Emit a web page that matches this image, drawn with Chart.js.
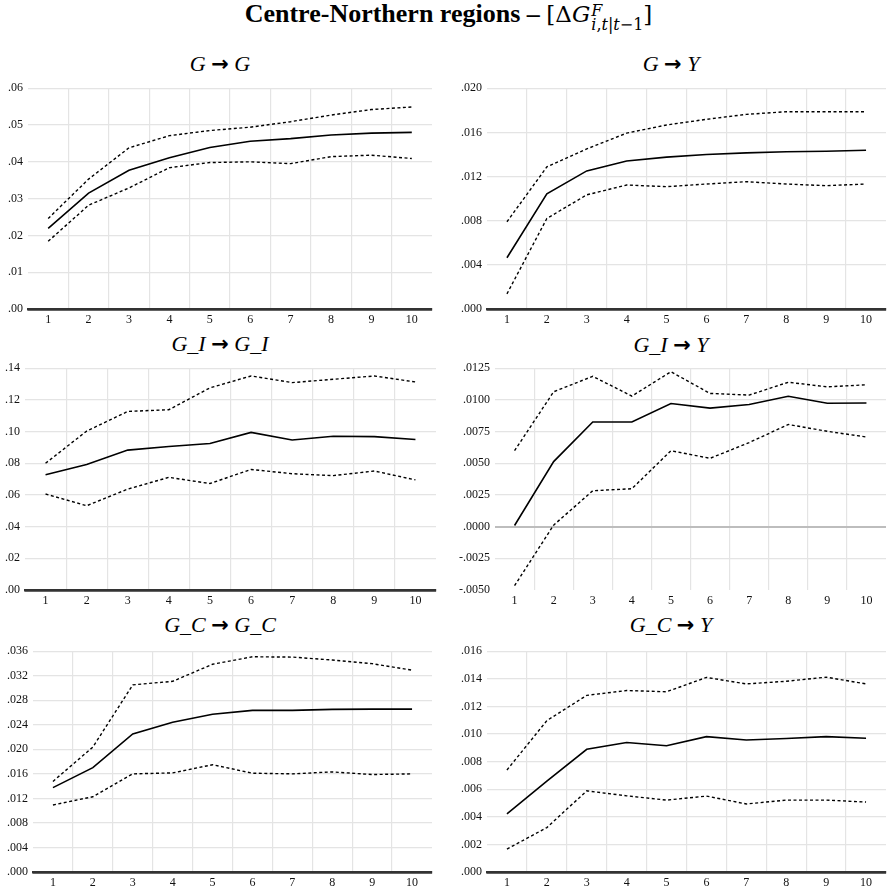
<!DOCTYPE html>
<html>
<head>
<meta charset="utf-8">
<title>Centre-Northern regions</title>
<script src="https://cdn.jsdelivr.net/npm/chart.js@4.4.1/dist/chart.umd.min.js"></script>
<style>
  body { margin: 0; background: #fff; }
  #page { position: relative; width: 887px; height: 890px; overflow: hidden; font-family: "Liberation Serif", "Times New Roman", serif; }
  #mainTitle { position: absolute; left: 0; top: 1px; width: 897px; text-align: center; font-size: 26px; line-height: 26px; white-space: nowrap; }
  #mainTitle b { font-weight: bold; }
  .math { font-family: "DejaVu Serif", serif; font-size: 23px; }
  .subsup { display: inline-block; vertical-align: -8px; font-size: 16px; line-height: 14px; text-align: left; margin-left: 1px; }
  .ptitle { position: absolute; width: 300px; text-align: center; font-size: 22px; line-height: 22px; white-space: nowrap; }
  .ptitle i { font-style: italic; }
  .ptitle .arr { font-family: "DejaVu Sans", sans-serif; font-weight: bold; font-size: 21px; }
  .box { position: absolute; }
</style>
</head>
<body>
<div id="page">
  <div id="mainTitle"><b>Centre-Northern regions – </b><span class="math">[Δ<i>G</i><span class="subsup"><i>F</i><br><i>i</i>,<i>t</i>|<i>t</i>−1</span>]</span></div>

  <div class="ptitle" style="left:70px; top:53px;"><i>G</i> <span class="arr">→</span> <i>G</i></div>
  <div class="ptitle" style="left:521px; top:53px;"><i>G</i> <span class="arr">→</span> <i>Y</i></div>
  <div class="ptitle" style="left:70px; top:333px;"><i>G_I</i> <span class="arr">→</span> <i>G_I</i></div>
  <div class="ptitle" style="left:521px; top:334px;"><i>G_I</i> <span class="arr">→</span> <i>Y</i></div>
  <div class="ptitle" style="left:70px; top:614px;"><i>G_C</i> <span class="arr">→</span> <i>G_C</i></div>
  <div class="ptitle" style="left:521px; top:614px;"><i>G_C</i> <span class="arr">→</span> <i>Y</i></div>

  <div class="box" id="b1"><canvas id="c1"></canvas></div>
  <div class="box" id="b2"><canvas id="c2"></canvas></div>
  <div class="box" id="b3"><canvas id="c3"></canvas></div>
  <div class="box" id="b4"><canvas id="c4"></canvas></div>
  <div class="box" id="b5"><canvas id="c5"></canvas></div>
  <div class="box" id="b6"><canvas id="c6"></canvas></div>
</div>

<script>
// horizons on the x axis
var horizons = ['1', '2', '3', '4', '5', '6', '7', '8', '9', '10'];

// G -> G
var ggMid = [0.0219, 0.0315, 0.0377, 0.0411, 0.0439, 0.0456, 0.0463, 0.0473, 0.0478, 0.0480];
var ggUp  = [0.0246, 0.0353, 0.0438, 0.0471, 0.0485, 0.0494, 0.0509, 0.0527, 0.0542, 0.0549];
var ggLo  = [0.0184, 0.0282, 0.0329, 0.0384, 0.0398, 0.0400, 0.0395, 0.0414, 0.0418, 0.0409];

// G -> Y
var gyMid = [0.00464, 0.01043, 0.01251, 0.01340, 0.01376, 0.01400, 0.01414, 0.01424, 0.01429, 0.01438];
var gyUp  = [0.00790, 0.01287, 0.01450, 0.01593, 0.01667, 0.01718, 0.01763, 0.01787, 0.01787, 0.01787];
var gyLo  = [0.00137, 0.00820, 0.01034, 0.01123, 0.01108, 0.01132, 0.01153, 0.01132, 0.01117, 0.01132];

// G_I -> G_I
var giMid = [0.0728, 0.0792, 0.0883, 0.0906, 0.0925, 0.0995, 0.0947, 0.0970, 0.0968, 0.0950];
var giUp  = [0.0800, 0.1003, 0.1127, 0.1138, 0.1276, 0.1351, 0.1309, 0.1330, 0.1351, 0.1313];
var giLo  = [0.0606, 0.0532, 0.0637, 0.0711, 0.0672, 0.0761, 0.0734, 0.0722, 0.0751, 0.0695];

// G_I -> Y
var giyMid = [0.00009, 0.00513, 0.00826, 0.00826, 0.00971, 0.00935, 0.00963, 0.01028, 0.00974, 0.00976];
var giyUp  = [0.00599, 0.01064, 0.01186, 0.01030, 0.01222, 0.01051, 0.01038, 0.01139, 0.01103, 0.01119];
var giyLo  = [-0.00466, 0.00012, 0.00283, 0.00299, 0.00599, 0.00539, 0.00663, 0.00806, 0.00752, 0.00707];

// G_C -> G_C
var gcMid = [0.01376, 0.01701, 0.02251, 0.02443, 0.02571, 0.02635, 0.02635, 0.02651, 0.02656, 0.02656];
var gcUp  = [0.01477, 0.02037, 0.03051, 0.03109, 0.03387, 0.03509, 0.03504, 0.03456, 0.03397, 0.03291];
var gcLo  = [0.01093, 0.01227, 0.01600, 0.01616, 0.01749, 0.01611, 0.01600, 0.01632, 0.01589, 0.01600];

// G_C -> Y
var gcyMid = [0.00422, 0.00659, 0.00889, 0.00938, 0.00915, 0.00981, 0.00957, 0.00967, 0.00981, 0.00969];
var gcyUp  = [0.00739, 0.01097, 0.01280, 0.01315, 0.01306, 0.01410, 0.01363, 0.01382, 0.01412, 0.01363];
var gcyLo  = [0.00166, 0.00322, 0.00588, 0.00552, 0.00521, 0.00550, 0.00493, 0.00521, 0.00521, 0.00507];

// y axis ranges: min, max, step, decimals
var ggRange  = [0, 0.06, 0.01, 2];
var gyRange  = [0, 0.020, 0.004, 3];
var giRange  = [0, 0.14, 0.02, 2];
var giyRange = [-0.005, 0.0125, 0.0025, 4];
var gcRange  = [0, 0.036, 0.004, 3];
var gcyRange = [0, 0.016, 0.002, 3];

// plot area boxes [left, top, right, bottom] in page pixels
var panels = [
    { id: 1, colLeft: 0,   plot: [28, 84, 432, 309],  range: ggRange,  mid: ggMid,  up: ggUp,  lo: ggLo },
    { id: 2, colLeft: 443, plot: [487, 84, 886, 309], range: gyRange,  mid: gyMid,  up: gyUp,  lo: gyLo },
    { id: 3, colLeft: 0,   plot: [25, 364, 436, 590], range: giRange,  mid: giMid,  up: giUp,  lo: giLo },
    { id: 4, colLeft: 443, plot: [495, 364, 886, 590], range: giyRange, mid: giyMid, up: giyUp, lo: giyLo, zeroInside: true },
    { id: 5, colLeft: 0,   plot: [33, 647, 432, 872], range: gcRange,  mid: gcMid,  up: gcUp,  lo: gcLo },
    { id: 6, colLeft: 443, plot: [487, 647, 886, 872], range: gcyRange, mid: gcyMid, up: gcyUp, lo: gcyLo }
];

var TOP_PAD = 8;
var X_AXIS_H = 22;
var AXIS_COLOR = '#333';
var tickFont = { family: "'Liberation Serif', 'Times New Roman', serif", size: 12 };

Chart.defaults.font.family = tickFont.family;

function fmtTick(v, dec) {
    var s = Math.abs(v).toFixed(dec).replace(/^0/, '');
    return (v < -1e-12 ? '-' : '') + s;
}

function drawPanel(p) {
    var box = document.getElementById('b' + p.id);
    var left = p.colLeft;
    var yw = p.plot[0] - left;
    box.style.left = left + 'px';
    box.style.top = (p.plot[1] - TOP_PAD) + 'px';
    box.style.width = (p.plot[2] - left + 1) + 'px';
    box.style.height = (p.plot[3] - p.plot[1] + TOP_PAD + X_AXIS_H) + 'px';

    var min = p.range[0], max = p.range[1], step = p.range[2], dec = p.range[3];
    var dashed = [3, 2.5];

    new Chart(document.getElementById('c' + p.id), {
        type: 'line',
        data: {
            labels: horizons,
            datasets: [
                { data: p.up,  borderColor: '#000', borderWidth: 1.4, borderDash: dashed, pointRadius: 0, tension: 0 },
                { data: p.mid, borderColor: '#000', borderWidth: 1.6, pointRadius: 0, tension: 0 },
                { data: p.lo,  borderColor: '#000', borderWidth: 1.4, borderDash: dashed, pointRadius: 0, tension: 0 }
            ]
        },
        options: {
            responsive: true,
            maintainAspectRatio: false,
            animation: false,
            layout: { padding: { top: TOP_PAD, right: 1, left: 0, bottom: 0 } },
            plugins: { legend: { display: false }, tooltip: { enabled: false } },
            scales: {
                x: {
                    type: 'category',
                    offset: true,
                    // the dark zero axis sits on the bottom edge unless zero is inside the range
                    border: { display: !p.zeroInside, color: AXIS_COLOR, width: 2.5 },
                    grid: {
                        offset: true,
                        drawTicks: false,
                        lineWidth: 1.2,
                        color: function (ctx) {
                            if (ctx.type !== 'tick' || ctx.index === 0) return 'rgba(0,0,0,0)';
                            return '#e4e4e4';
                        }
                    },
                    ticks: {
                        autoSkip: false,
                        maxRotation: 0,
                        padding: 4,
                        color: '#111',
                        font: tickFont
                    },
                    afterFit: function (s) { s.height = X_AXIS_H; }
                },
                y: {
                    min: min,
                    max: max,
                    border: { display: false },
                    grid: {
                        drawTicks: false,
                        lineWidth: function (ctx) {
                            if (ctx.tick && Math.abs(ctx.tick.value) < 1e-9) return p.zeroInside ? 2 : 2.5;
                            return 1.2;
                        },
                        color: function (ctx) {
                            if (!ctx.tick) return 'rgba(0,0,0,0)';
                            var v = ctx.tick.value;
                            if (Math.abs(v) < 1e-9) return p.zeroInside ? '#bdbdbd' : AXIS_COLOR;
                            if (p.zeroInside && Math.abs(v - min) < 1e-9) return 'rgba(0,0,0,0)';
                            return '#e4e4e4';
                        }
                    },
                    ticks: {
                        stepSize: step,
                        padding: 5,
                        color: '#111',
                        font: tickFont,
                        callback: function (v) { return fmtTick(v, dec); }
                    },
                    afterFit: function (s) { s.width = yw; }
                }
            }
        }
    });
}

panels.forEach(drawPanel);
</script>
</body>
</html>
